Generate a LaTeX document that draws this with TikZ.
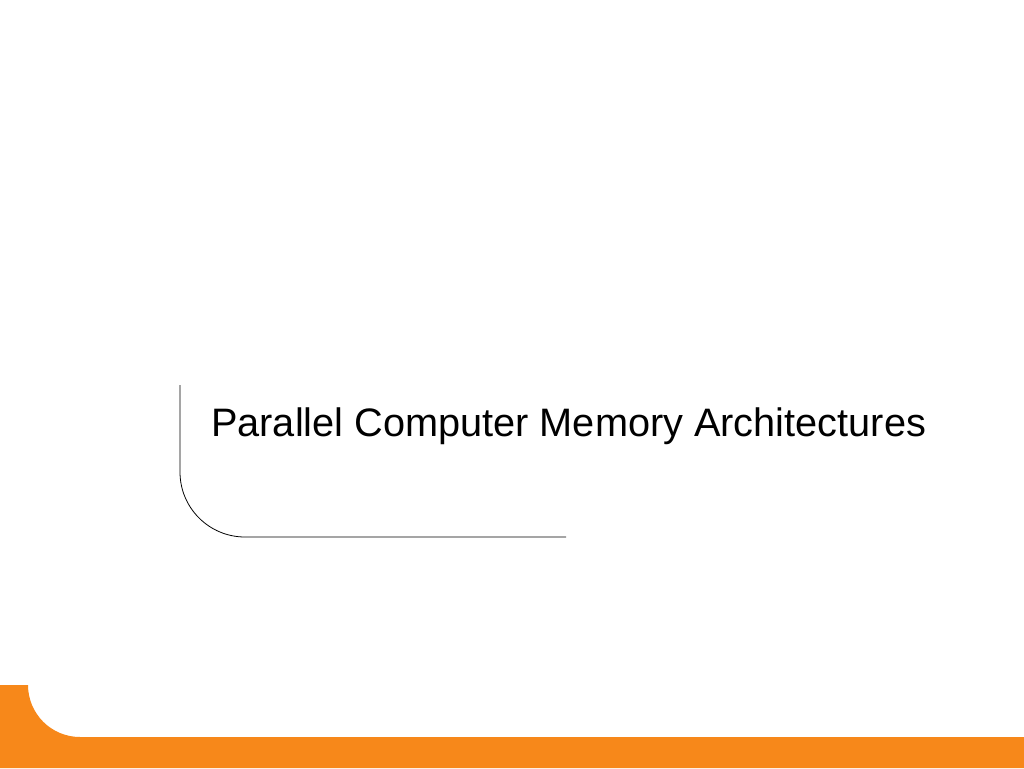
\documentclass[tikz,border=0pt]{standalone}
\usepackage{fontspec}
\setmainfont{Liberation Sans}
\definecolor{orng}{HTML}{F7881A}
\begin{document}
\begin{tikzpicture}[x=1pt,y=-1pt]
\useasboundingbox[fill=white] (0,0) rectangle (1024,768);
\fill[orng] (0,685) -- (28,685) arc[start angle=180,end angle=90,radius=52] -- (1024,737) -- (1024,768) -- (0,768) -- cycle;
\draw[line width=0.8pt] (180,385) -- (180,472) arc[start angle=180,end angle=90,radius=65] -- (566,537);
\node[anchor=base west,inner sep=0pt,font=\fontsize{39.7}{46}\selectfont] (t) at (211,436) {Parallel Computer Memory Architectures};
\end{tikzpicture}
\end{document}
